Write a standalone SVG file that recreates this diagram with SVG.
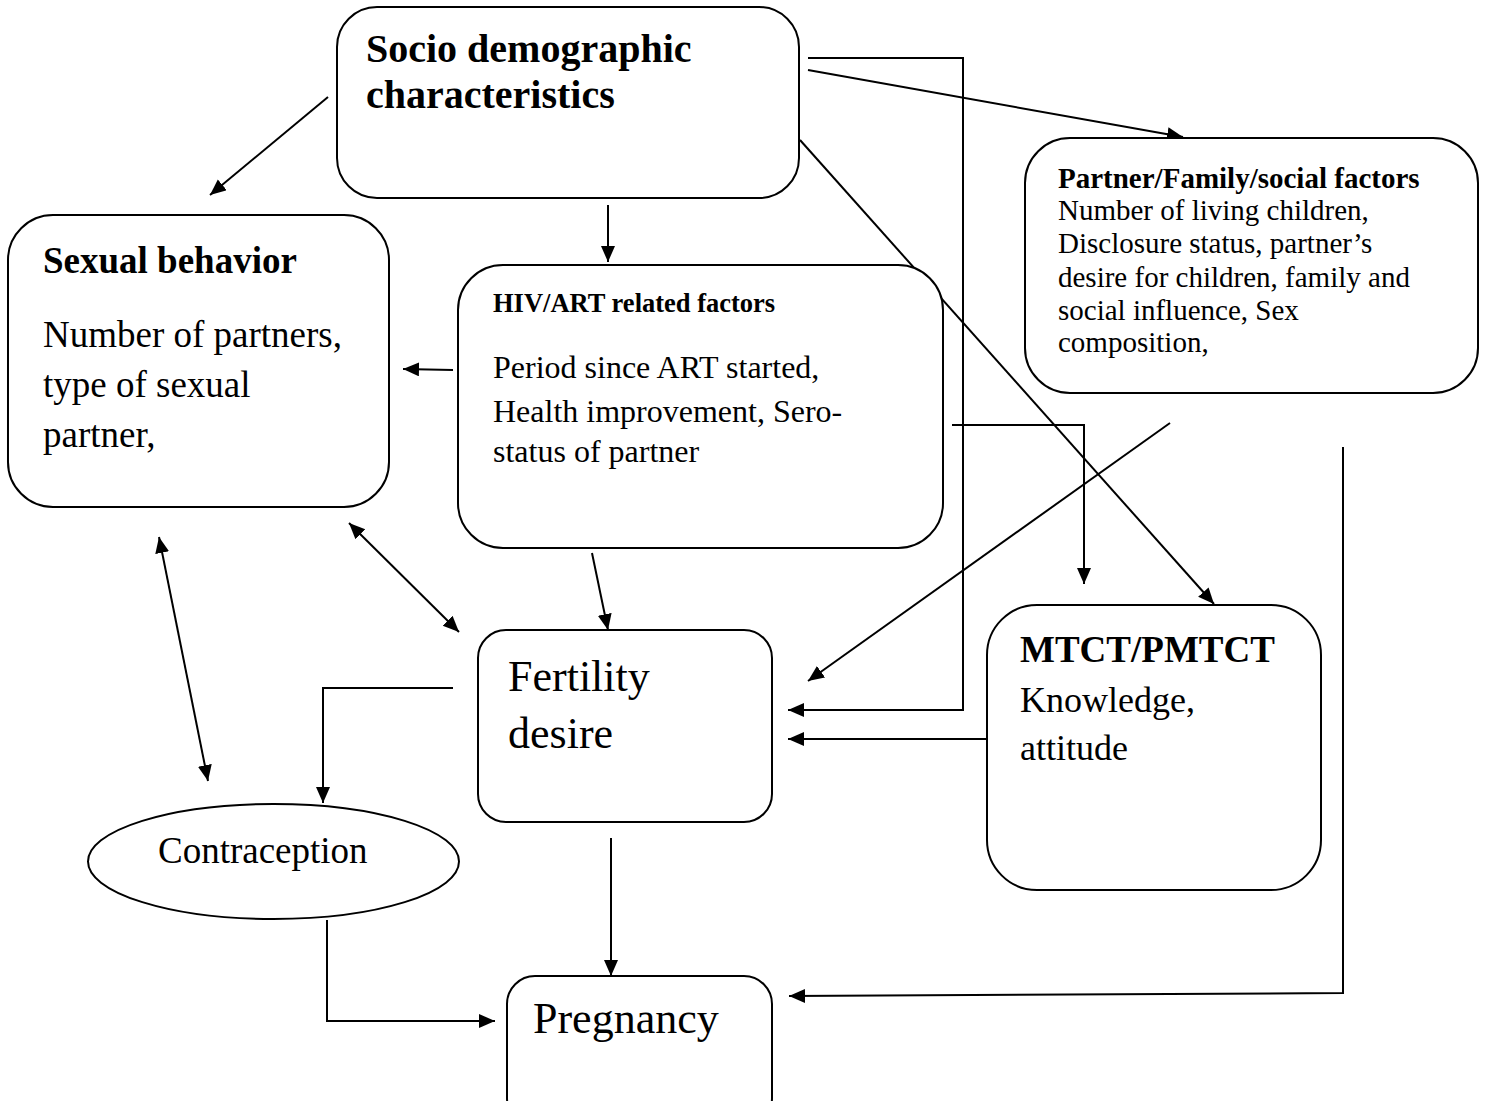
<svg xmlns="http://www.w3.org/2000/svg" width="1486" height="1101" viewBox="0 0 1486 1101">
<defs>
<style>
.box{fill:#fff;stroke:#000;stroke-width:2}
.t{font-family:"Liberation Serif","Times New Roman",serif;fill:#000}
.b{font-weight:bold}
.c{fill:none;stroke:#000;stroke-width:2}
</style>
<marker id="ah" markerUnits="userSpaceOnUse" markerWidth="18" markerHeight="16" refX="16" refY="7" orient="auto-start-reverse">
<path d="M0,0 L16,7 L0,14 z" fill="#000"/>
</marker>
</defs>
<rect width="1486" height="1101" fill="#fff"/>

<g id="connectors">
<path class="c" d="M328,97 L210,195" marker-end="url(#ah)"/>
<path class="c" d="M608,205 L608,262" marker-end="url(#ah)"/>
<path class="c" d="M808,70 L1183,137" marker-end="url(#ah)"/>
<path class="c" d="M808,58 L963,58 L963,710 L788,710" marker-end="url(#ah)"/>
<path class="c" d="M800,140 L1214,604" marker-end="url(#ah)"/>
<path class="c" d="M453,370 L403,369" marker-end="url(#ah)"/>
<path class="c" d="M592,553 L608,630" marker-end="url(#ah)"/>
<path class="c" d="M952,425 L1084,425 L1084,584" marker-end="url(#ah)"/>
<path class="c" d="M1170,423 L808,681" marker-end="url(#ah)"/>
<path class="c" d="M349,523 L459,632" marker-start="url(#ah)" marker-end="url(#ah)"/>
<path class="c" d="M159,537 L208,781" marker-start="url(#ah)" marker-end="url(#ah)"/>
<path class="c" d="M453,688 L323,688 L323,803" marker-end="url(#ah)"/>
<path class="c" d="M987,739 L788,739" marker-end="url(#ah)"/>
<path class="c" d="M611,838 L611,976" marker-end="url(#ah)"/>
<path class="c" d="M327,920 L327,1021 L495,1021" marker-end="url(#ah)"/>
<path class="c" d="M1343,447 L1343,993 L789,996" marker-end="url(#ah)"/>
</g>

<g id="socio">
<rect class="box" x="337" y="7" width="462" height="191" rx="40"/>
<text class="t b" font-size="40" x="366" y="62">Socio demographic</text>
<text class="t b" font-size="40" x="366" y="108">characteristics</text>
</g>

<g id="partner">
<rect class="box" x="1025" y="138" width="453" height="255" rx="45"/>
<text class="t b" font-size="29" x="1058" y="188">Partner/Family/social factors</text>
<text class="t" font-size="29" x="1058" y="220">Number of living children,</text>
<text class="t" font-size="29" x="1058" y="253">Disclosure status, partner’s</text>
<text class="t" font-size="29" x="1058" y="287">desire for children, family and</text>
<text class="t" font-size="29" x="1058" y="320">social influence, Sex</text>
<text class="t" font-size="29" x="1058" y="352">composition,</text>
</g>

<g id="sexual">
<rect class="box" x="8" y="215" width="381" height="292" rx="45"/>
<text class="t b" font-size="37" x="43" y="273">Sexual behavior</text>
<text class="t" font-size="37" x="43" y="347">Number of partners,</text>
<text class="t" font-size="37" x="43" y="397">type of sexual</text>
<text class="t" font-size="37" x="43" y="447">partner,</text>
</g>

<g id="hiv">
<rect class="box" x="458" y="265" width="485" height="283" rx="45"/>
<text class="t b" font-size="26.5" x="493" y="312">HIV/ART related factors</text>
<text class="t" font-size="32" x="493" y="378">Period since ART started,</text>
<text class="t" font-size="32" x="493" y="422">Health improvement, Sero-</text>
<text class="t" font-size="32" x="493" y="462">status of partner</text>
</g>

<g id="fertility">
<rect class="box" x="478" y="630" width="294" height="192" rx="28"/>
<text class="t" font-size="44" x="508" y="691">Fertility</text>
<text class="t" font-size="44" x="508" y="748">desire</text>
</g>

<g id="mtct">
<rect class="box" x="987" y="605" width="334" height="285" rx="50"/>
<text class="t b" font-size="37" x="1020" y="662">MTCT/PMTCT</text>
<text class="t" font-size="36" x="1020" y="712">Knowledge,</text>
<text class="t" font-size="36" x="1020" y="760">attitude</text>
</g>

<g id="contraception">
<ellipse class="box" cx="273.5" cy="861.5" rx="185.5" ry="57.5"/>
<text class="t" font-size="37" x="158" y="863">Contraception</text>
</g>

<g id="pregnancy">
<rect class="box" x="507" y="976" width="265" height="150" rx="28"/>
<text class="t" font-size="44" x="533" y="1033">Pregnancy</text>
</g>
</svg>
